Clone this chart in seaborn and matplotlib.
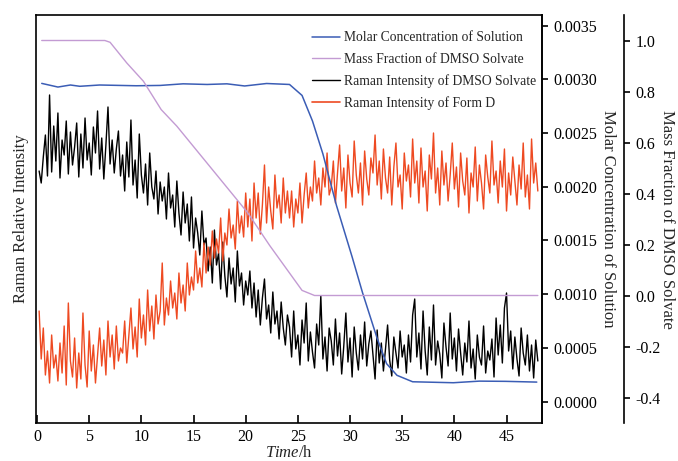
import numpy as np
import matplotlib
matplotlib.use("Agg")
import matplotlib.pyplot as plt
import seaborn as sns
from matplotlib.lines import Line2D

# ---------------- data ----------------
# Molar concentration of solution (right axis 1)
conc_time = [0.45, 2.0, 3.2, 4.1, 6.0, 9.5, 11.8, 14.0, 16.3, 18.2, 19.9, 22.0, 24.2,
             25.4, 26.4, 27.4, 28.7, 30.2, 31.2, 32.6, 33.5, 34.5, 36.0, 39.9, 42.4, 44.9, 47.9]
conc_vals = [0.002963, 0.002929, 0.002948, 0.002936, 0.002948, 0.002941, 0.002944, 0.002959,
             0.002953, 0.002959, 0.002939, 0.002962, 0.002953, 0.002851, 0.002613, 0.002306,
             0.001826, 0.001347, 0.001013, 0.000588, 0.000353, 0.000244, 0.000184, 0.000175,
             0.000190, 0.000188, 0.000181]

# Mass fraction of DMSO solvate (right axis 2)
mass_time = [0.45, 6.5, 7.0, 8.6, 10.2, 11.9, 13.4, 20.2, 22.3, 25.4, 26.6, 48.0]
mass_vals = [1.0, 1.0, 0.993, 0.912, 0.84, 0.729, 0.664, 0.324, 0.196, 0.02, 0.0, 0.0]

# Raman intensities (arbitrary units), sampled every 0.2 h from 0.2 h to 48.0 h
raman_dmso = [
    252, 240, 266, 288, 247, 328, 251, 297, 262, 310, 245, 283, 268, 302, 249, 291, 258, 276, 300, 246,
    289, 255, 305, 263, 280, 248, 296, 270, 312, 254, 285, 244, 278, 316, 259, 283, 250, 274, 292, 247,
    268, 232, 281, 246, 303, 238, 263, 225, 289, 248, 230, 259, 218, 270, 236, 224, 252, 209, 241, 222,
    236, 204, 250, 215, 228, 196, 242, 210, 188, 231, 200, 219, 182, 226, 175, 205, 190, 168, 212, 178,
    185, 152, 176, 140, 193, 158, 170, 134, 181, 147, 126, 165, 139, 155, 121, 172, 137, 150, 118, 142,
    128, 152, 115, 140, 106, 133, 98, 125, 144, 104, 118, 90, 131, 99, 112, 84, 121, 95, 78, 108,
    96, 66, 112, 74, 88, 58, 103, 80, 120, 62, 91, 71, 55, 99, 78, 127, 64, 86, 52, 95,
    82, 58, 104, 67, 90, 49, 77, 110, 61, 85, 46, 96, 70, 53, 88, 64, 101, 57, 79, 92,
    68, 44, 93, 60, 80, 52, 74, 98, 63, 47, 86, 70, 55, 92, 66, 78, 50, 88, 61, 108,
    124, 66, 90, 54, 112, 72, 48, 96, 63, 118, 58, 82, 69, 45, 100, 76, 57, 110, 64, 85,
    52, 94, 70, 48, 80, 61, 102, 55, 74, 44, 88, 66, 58, 97, 50, 72, 63, 84, 46, 105,
    68, 98, 60, 115, 130, 72, 92, 54, 86, 64, 47, 95, 70, 58, 88, 52, 78, 45, 83, 62,
]
raman_formd = [
    112, 64, 95, 48, 72, 40, 88, 55, 68, 42, 80, 50, 97, 38, 120, 62, 46, 85, 35, 70,
    44, 110, 58, 36, 92, 52, 78, 40, 68, 95, 57, 83, 48, 102, 66, 88, 54, 97, 62, 75,
    70, 102, 60, 88, 115, 74, 96, 66, 124, 85, 108, 78, 133, 92, 117, 84, 128, 99, 112, 160,
    98, 125, 108, 142, 115, 130, 104, 150, 120, 138, 112, 160, 128, 146, 133, 172, 140, 155, 136, 180,
    150, 176, 158, 192, 165, 184, 170, 205, 162, 190, 178, 214, 185, 198, 174, 222, 190, 207, 186, 230,
    196, 224, 182, 240, 205, 230, 189, 218, 258, 200, 236, 212, 194, 248, 215, 228, 200, 245, 210, 232,
    205, 232, 196, 224, 210, 240, 200, 228, 250, 215, 236, 222, 262, 230, 245, 218, 255, 236, 270, 228,
    236, 262, 220, 250, 278, 232, 255, 215, 268, 240, 226, 282, 248, 230, 260, 218, 272, 244, 228, 265,
    250, 288, 238, 262, 224, 274, 245, 230, 266, 218, 256, 280, 236, 248, 214, 270, 242, 258, 226, 284,
    240, 262, 220, 275, 236, 252, 212, 268, 244, 290, 230, 255, 218, 272, 238, 260, 222, 248, 280, 234,
    256, 216, 270, 242, 228, 265, 210, 250, 236, 276, 222, 258, 240, 214, 268, 246, 230, 282, 238, 252,
    220, 262, 236, 274, 212, 250, 228, 266, 242, 218, 258, 234, 280, 226, 248, 214, 284, 240, 260, 232,
]
raman_time = np.round(np.arange(1, len(raman_dmso) + 1) * 0.2, 2)

x_ticks = [0, 5, 10, 15, 20, 25, 30, 35, 40, 45]
conc_ticks = [0.0, 0.0005, 0.0010, 0.0015, 0.0020, 0.0025, 0.0030, 0.0035]
mass_ticks = [-0.4, -0.2, 0.0, 0.2, 0.4, 0.6, 0.8, 1.0]

labels = ["Molar Concentration of Solution", "Mass Fraction of DMSO Solvate",
          "Raman Intensity of DMSO Solvate", "Raman Intensity of Form D"]

# ---------------- style ----------------
sns.set_theme(style="ticks")
plt.rcParams["font.family"] = ["Liberation Serif", "DejaVu Serif"]
plt.rcParams["mathtext.fontset"] = "custom"
plt.rcParams["mathtext.rm"] = "Liberation Serif"
plt.rcParams["mathtext.it"] = "Liberation Serif:italic"
plt.rcParams["axes.linewidth"] = 1.2

C_BLUE = "#3B5DB5"
C_MAG = "#C39BD3"
C_BLACK = "#000000"
C_RED = "#EE4A22"

TICK_FS = 11.5
LAB_FS = 12

fig = plt.figure(figsize=(6.78, 4.61), dpi=100)
ax = fig.add_axes([36 / 678, 1 - 423 / 461, (542 - 36) / 678, (423 - 15) / 461])
ax2 = ax.twinx()
ax3 = ax.twinx()

sns.lineplot(x=raman_time, y=raman_dmso, ax=ax, color=C_BLACK, lw=1.0)
sns.lineplot(x=raman_time, y=raman_formd, ax=ax, color=C_RED, lw=1.0)
sns.lineplot(x=conc_time, y=conc_vals, ax=ax2, color=C_BLUE, lw=1.1)
sns.lineplot(x=mass_time, y=mass_vals, ax=ax3, color=C_MAG, lw=1.0)

# main axis
ax.set_xlim(-0.1, 48.4)
ax.set_ylim(0, 408)
ax.set_xticks(x_ticks)
ax.set_yticks([])
ax.tick_params(axis="x", direction="in", length=5.5, width=1.2, labelsize=TICK_FS, pad=4, colors="black")
ax.set_xlabel(r"$\it{Time}$/h", fontsize=LAB_FS, labelpad=0)
ax.set_ylabel("Raman Relative Intensity", fontsize=LAB_FS, labelpad=5)
for s in ax.spines.values():
    s.set_color("black")
    s.set_linewidth(1.2)

# right axis 1
ax2.set_ylim(-0.0002, 0.0036)
ax2.set_yticks(conc_ticks)
ax2.set_yticklabels([f"{v:.4f}" for v in conc_ticks])
ax2.tick_params(axis="y", direction="out", length=4.5, width=1.2, labelsize=TICK_FS, pad=4, colors="black")
ax2.set_ylabel("Molar Concentration of Solution", fontsize=LAB_FS, rotation=270, labelpad=13)
ax2.spines["right"].set_linewidth(1.2)
ax2.spines["right"].set_color("black")

# right axis 2 (offset)
ax3.spines["right"].set_position(("axes", 1.162))
ax3.set_ylim(-0.5, 1.1)
ax3.set_yticks(mass_ticks)
ax3.set_yticklabels([f"{v:.1f}" for v in mass_ticks])
ax3.tick_params(axis="y", direction="out", length=4.5, width=1.2, labelsize=TICK_FS, pad=4, colors="black")
ax3.set_ylabel("Mass Fraction of DMSO Solvate", fontsize=LAB_FS, rotation=270, labelpad=10)
ax3.spines["right"].set_linewidth(1.2)
ax3.spines["right"].set_color("black")
for a in (ax2, ax3):
    a.spines["left"].set_visible(False)
    a.spines["top"].set_visible(False)
    a.spines["bottom"].set_visible(False)

handles = [Line2D([], [], color=C_BLUE, lw=1.1),
           Line2D([], [], color=C_MAG, lw=1.0),
           Line2D([], [], color=C_BLACK, lw=1.0),
           Line2D([], [], color=C_RED, lw=1.2)]
leg = ax3.legend(handles, labels, loc="upper right", bbox_to_anchor=(1.012, 0.99), frameon=False,
                 fontsize=9.8, handlelength=2.1, handletextpad=0.25, labelspacing=0.62)

fig.savefig("out.png", dpi=100)
